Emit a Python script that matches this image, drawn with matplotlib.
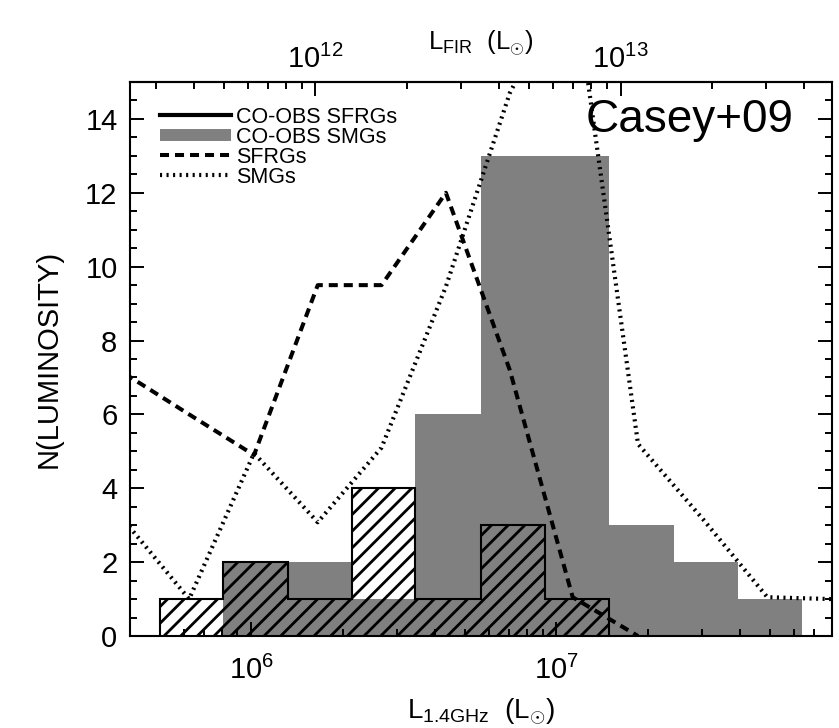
import matplotlib
matplotlib.use("Agg")
import matplotlib.pyplot as plt
from matplotlib.lines import Line2D
from matplotlib.ticker import MultipleLocator

plt.rcParams["font.family"] = ["Liberation Sans", "DejaVu Sans"]
plt.rcParams["mathtext.fontset"] = "custom"
plt.rcParams["mathtext.rm"] = "Liberation Sans"
plt.rcParams["mathtext.it"] = "Liberation Sans:italic"
plt.rcParams["mathtext.bf"] = "Liberation Sans:bold"
plt.rcParams["hatch.linewidth"] = 2.0
plt.rcParams["lines.scale_dashes"] = False

# Histogram bin edges in L_1.4GHz (L_sun)
bin_edges = [5.0e5, 8.1e5, 1.32e6, 2.13e6, 3.45e6, 5.64e6, 9.16e6, 1.49e7, 2.43e7, 3.94e7, 6.40e7]
co_obs_smgs = [0, 2, 2, 1, 6, 13, 13, 3, 2, 1]
co_obs_sfrgs = [1, 2, 1, 4, 1, 3, 1, 0, 0, 0]

# Parent-sample distributions (scaled), sampled at the bin midpoints
curve_l14 = [3.85e5, 6.25e5, 1.02e6, 1.65e6, 2.67e6, 4.34e6, 7.03e6,
             1.13e7, 1.85e7, 3.03e7, 4.91e7, 7.96e7]
sfrgs = [7.1, 6.0, 4.9, 9.5, 9.5, 12.0, 7.2, 1.05, 0.0]
smgs = [3.1, 1.0, 4.95, 3.08, 5.1, 9.46, 14.7, 18.0, 5.2, 3.15, 1.05, 1.0]

legend_labels = ["CO-OBS SFRGs", "CO-OBS SMGs", "SFRGs", "SMGs"]

xlim = (4.0e5, 8.0e7)
ylim = (0, 15)
fir_ticks = [1e12, 1e13]
fir_factor = 10 ** 5.79  # L_FIR / L_1.4GHz

fig = plt.figure(figsize=(8.39, 7.28), dpi=100)
ax = fig.add_axes([130 / 839, 1 - 636 / 728, 702 / 839, 554 / 728])

ax.set_xscale("log")
ax.set_xlim(*xlim)
ax.set_ylim(*ylim)

# CO-observed SMGs: solid grey histogram
ax.stairs(co_obs_smgs, bin_edges, fill=True, facecolor="#808080",
          edgecolor="#808080", linewidth=0, zorder=1)

# CO-observed SFRGs: hatched outline histogram (trailing empty bins dropped)
n_sf = max(i for i, v in enumerate(co_obs_sfrgs) if v > 0) + 1
ax.stairs(co_obs_sfrgs[:n_sf], bin_edges[:n_sf + 1], fill=True,
          facecolor="none", edgecolor="black", hatch="//",
          linewidth=1.5, zorder=2)

dash_style = dict(color="black", lw=2.9, dashes=(6.5, 4.3), dash_capstyle="butt")
dot_style = dict(color="black", lw=3.0, dashes=(1.5, 3.2), dash_capstyle="butt")
ax.plot(curve_l14[:len(sfrgs)], sfrgs, zorder=3, **dash_style)
ax.plot(curve_l14, smgs, zorder=3, **dot_style)

# Axis styling
for sp in ax.spines.values():
    sp.set_linewidth(1.5)
ax.yaxis.set_major_locator(MultipleLocator(2))
ax.yaxis.set_minor_locator(MultipleLocator(0.5))
ax.tick_params(which="both", direction="in", width=1.4, top=False, right=True,
               labelsize=21)
ax.tick_params(which="major", length=10, pad=9)
ax.tick_params(which="minor", length=5)
ax.tick_params(axis="x", which="major", pad=14)

ax.set_ylabel("N(LUMINOSITY)", fontsize=21, labelpad=16)
ax.set_xlabel(r"L$_{\mathrm{1.4GHz}}$  (L$_{\odot}$)", fontsize=20)
ax.xaxis.set_label_coords(0.5, (636 - 696) / 554)

secax = ax.secondary_xaxis("top", functions=(lambda x: x * fir_factor,
                                             lambda x: x / fir_factor))
secax.set_xticks(fir_ticks)
secax.spines["top"].set_linewidth(1.5)
secax.tick_params(which="both", direction="in", width=1.4, labelsize=21)
secax.tick_params(which="major", length=10, pad=6)
secax.tick_params(which="minor", length=5)
secax.set_xlabel(r"L$_{\mathrm{FIR}}$  (L$_{\odot}$)", fontsize=18.5)
secax.xaxis.set_label_coords(0.5, (636 - 50) / 554, transform=ax.transAxes)

# Legend
handles = [
    Line2D([], [], color="black", lw=3.0),
    Line2D([], [], color="#808080", lw=8.6, solid_capstyle="butt"),
    Line2D([], [], **dash_style),
    Line2D([], [], **dot_style),
]
ax.legend(handles, legend_labels, loc="upper left",
          bbox_to_anchor=(30 / 702, 1 - 25 / 554), frameon=False,
          fontsize=15.5, handlelength=3.3, handletextpad=0.25,
          labelspacing=-0.05, borderpad=0, borderaxespad=0)

ax.text((793 - 130) / 702, (636 - 131.7) / 554, "Casey+09", transform=ax.transAxes,
        ha="right", va="baseline", fontsize=33, zorder=5)

fig.savefig("out.png", dpi=100)
